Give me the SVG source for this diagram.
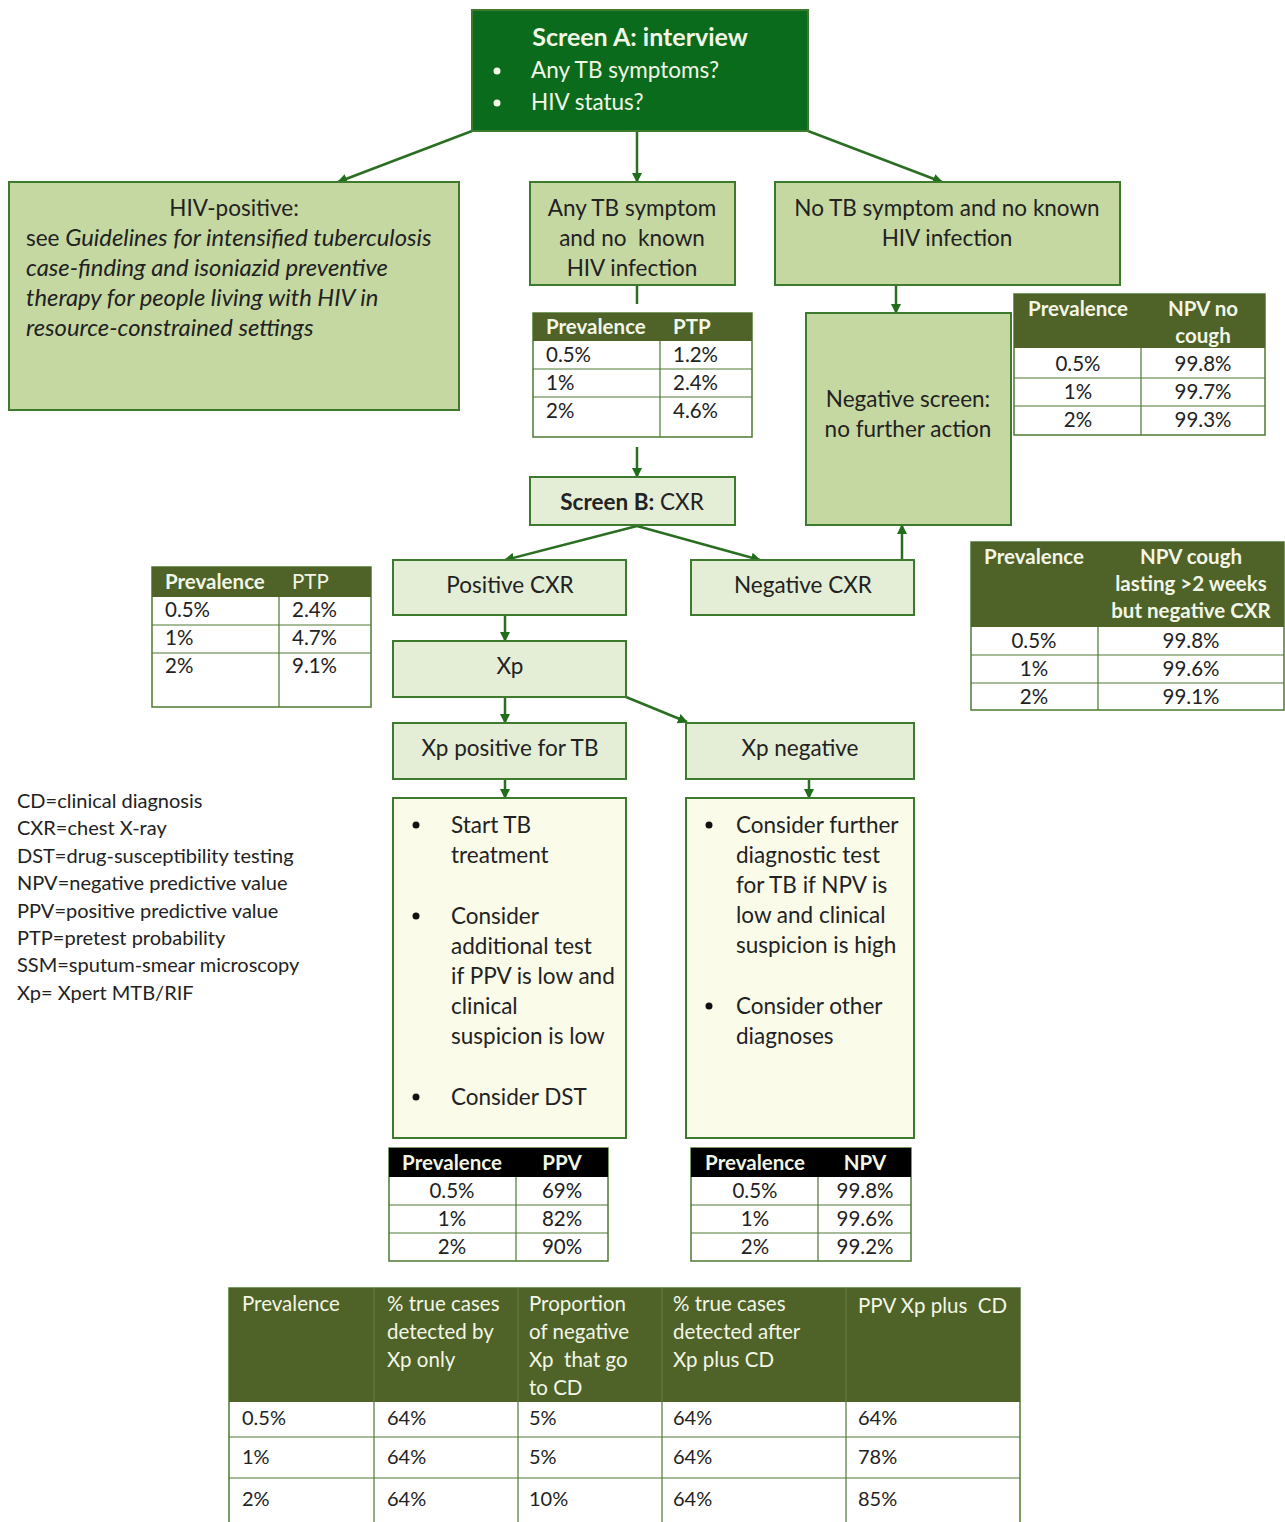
<svg xmlns="http://www.w3.org/2000/svg" width="1285" height="1522" viewBox="0 0 1285 1522">
<style>
text{font-family:Lato,"Open Sans","Liberation Sans",sans-serif;fill:#222;font-size:22.5px;white-space:pre}
.c{text-anchor:middle}
.b{font-weight:bold}
.i{font-style:italic;font-size:23.8px}
.w{fill:#f2f6e6}
.node{stroke:#3d7a2e;stroke-width:2}
.dk{fill:#0b6b1c}
.lg{fill:#c5d8a2}
.pl{fill:#e4edd5}
.yl{fill:#fbfbea}
.tb{fill:#fff;stroke:#4f7a32;stroke-width:1.5}
.th{fill:#4f6228}
.tk{fill:#000}
.ln{stroke:#4f7a32;stroke-width:1.2;fill:none}
.conn line,.conn path{stroke:#2a6e22;stroke-width:2.5;fill:none}
.arr{marker-end:url(#ah)}
.hd{font-size:20.5px}
.v{font-size:20.5px}
.lgd{font-size:20px}
</style>
<defs>
<marker id="ah" markerWidth="10" markerHeight="10" refX="9" refY="5" orient="auto" markerUnits="userSpaceOnUse">
<path d="M0,0 L10,5 L0,10 z" fill="#1f6e1a"/>
</marker>
</defs>

<g class="conn">
<line class="arr" x1="637" y1="131" x2="637" y2="182"/>
<line class="arr" x1="472" y1="131" x2="338" y2="182"/>
<line class="arr" x1="808" y1="131" x2="942" y2="182"/>
<line x1="637" y1="285" x2="637" y2="304"/>
<line class="arr" x1="896" y1="285" x2="896" y2="313"/>
<line class="arr" x1="637" y1="447" x2="637" y2="477"/>
<line class="arr" x1="637" y1="526" x2="505" y2="560"/>
<line class="arr" x1="637" y1="526" x2="760" y2="560"/>
<line class="arr" x1="902" y1="560" x2="902" y2="525"/>
<line class="arr" x1="505" y1="615" x2="505" y2="641"/>
<line class="arr" x1="505" y1="697" x2="505" y2="723"/>
<line class="arr" x1="626" y1="697" x2="687" y2="722"/>
<line class="arr" x1="505" y1="779" x2="505" y2="798"/>
<line class="arr" x1="809" y1="779" x2="809" y2="798"/>
</g>

<g id="screenA">
<rect class="node dk" x="472" y="10" width="336" height="121"/>
<text class="c b w" x="640" y="46" style="font-size:25px">Screen A: interview</text>
<circle cx="497" cy="71" r="3.5" fill="#f2f6e6"/>
<text class="w" x="531" y="78">Any TB symptoms?</text>
<circle cx="497" cy="103" r="3.5" fill="#f2f6e6"/>
<text class="w" x="531" y="110">HIV status?</text>
</g>

<g id="hivpos">
<rect class="node lg" x="9" y="182" width="450" height="228"/>
<text class="c" x="234" y="216">HIV-positive:</text>
<text x="26" y="246">see <tspan class="i">Guidelines for intensified tuberculosis</tspan></text>
<text class="i" x="26" y="276">case-finding and isoniazid preventive</text>
<text class="i" x="26" y="306">therapy for people living with HIV in</text>
<text class="i" x="26" y="336">resource-constrained settings</text>
</g>

<g id="anytb">
<rect class="node lg" x="530" y="182" width="205" height="103"/>
<text class="c" x="632" y="216">Any TB symptom</text>
<text class="c" x="632" y="246">and no  known</text>
<text class="c" x="632" y="276">HIV infection</text>
</g>

<g id="notb">
<rect class="node lg" x="775" y="182" width="345" height="103"/>
<text class="c" x="947" y="216">No TB symptom and no known</text>
<text class="c" x="947" y="246">HIV infection</text>
</g>

<g id="negscreen">
<rect class="node lg" x="806" y="313" width="205" height="212"/>
<text class="c" x="908" y="407">Negative screen:</text>
<text class="c" x="908" y="437">no further action</text>
</g>

<g id="ptp1">
<rect class="tb" x="533" y="313" width="219" height="124"/>
<rect class="th" x="533" y="313" width="219" height="28"/>
<path class="ln" d="M533,369 H752 M533,397 H752 M660,341 V437"/>
<text class="b w hd" x="546" y="334">Prevalence</text>
<text class="b w hd" x="673" y="334">PTP</text>
<text class="v" x="546" y="362">0.5%</text><text class="v" x="673" y="362">1.2%</text>
<text class="v" x="546" y="390">1%</text><text class="v" x="673" y="390">2.4%</text>
<text class="v" x="546" y="418">2%</text><text class="v" x="673" y="418">4.6%</text>
</g>

<g id="npvnocough">
<rect class="tb" x="1014" y="294" width="251" height="141"/>
<rect class="th" x="1014" y="294" width="251" height="54"/>
<path class="ln" d="M1014,378 H1265 M1014,406 H1265 M1141,348 V435"/>
<text class="c b w hd" x="1078" y="316">Prevalence</text>
<text class="c b w hd" x="1203" y="316">NPV no</text>
<text class="c b w hd" x="1203" y="343">cough</text>
<text class="c v" x="1078" y="371">0.5%</text><text class="c v" x="1203" y="371">99.8%</text>
<text class="c v" x="1078" y="399">1%</text><text class="c v" x="1203" y="399">99.7%</text>
<text class="c v" x="1078" y="427">2%</text><text class="c v" x="1203" y="427">99.3%</text>
</g>

<g id="screenB">
<rect class="node pl" x="530" y="477" width="205" height="48"/>
<text class="c" x="632" y="510"><tspan class="b">Screen B:</tspan> CXR</text>
</g>

<g id="poscxr">
<rect class="node pl" x="393" y="560" width="233" height="55"/>
<text class="c" x="510" y="593">Positive CXR</text>
</g>

<g id="negcxr">
<rect class="node pl" x="691" y="560" width="223" height="55"/>
<text class="c" x="803" y="593">Negative CXR</text>
</g>

<g id="ptp2">
<rect class="tb" x="152" y="567" width="219" height="140"/>
<rect class="th" x="152" y="567" width="219" height="30"/>
<path class="ln" d="M152,625 H371 M152,653 H371 M279,597 V707"/>
<text class="b w hd" x="165" y="589">Prevalence</text>
<text class="w hd" x="292" y="589">PTP</text>
<text class="v" x="165" y="617">0.5%</text><text class="v" x="292" y="617">2.4%</text>
<text class="v" x="165" y="645">1%</text><text class="v" x="292" y="645">4.7%</text>
<text class="v" x="165" y="673">2%</text><text class="v" x="292" y="673">9.1%</text>
</g>

<g id="npvcough">
<rect class="tb" x="971" y="542" width="313" height="168"/>
<rect class="th" x="971" y="542" width="313" height="85"/>
<path class="ln" d="M971,655 H1284 M971,683 H1284 M1098,627 V710"/>
<text class="c b w hd" x="1034" y="564">Prevalence</text>
<text class="c b w hd" x="1191" y="564">NPV cough</text>
<text class="c b w hd" x="1191" y="591">lasting &gt;2 weeks</text>
<text class="c b w hd" x="1191" y="618">but negative CXR</text>
<text class="c v" x="1034" y="648">0.5%</text><text class="c v" x="1191" y="648">99.8%</text>
<text class="c v" x="1034" y="676">1%</text><text class="c v" x="1191" y="676">99.6%</text>
<text class="c v" x="1034" y="704">2%</text><text class="c v" x="1191" y="704">99.1%</text>
</g>

<g id="xp">
<rect class="node pl" x="393" y="641" width="233" height="56"/>
<text class="c" x="510" y="674">Xp</text>
</g>

<g id="xppos">
<rect class="node pl" x="393" y="723" width="233" height="56"/>
<text class="c" x="510" y="756">Xp positive for TB</text>
</g>

<g id="xpneg">
<rect class="node pl" x="686" y="723" width="228" height="56"/>
<text class="c" x="800" y="756">Xp negative</text>
</g>

<g id="posactions">
<rect class="node yl" x="393" y="798" width="233" height="340"/>
<circle cx="416" cy="825" r="3.5" fill="#111"/>
<text x="451" y="833">Start TB</text>
<text x="451" y="863">treatment</text>
<circle cx="416" cy="916" r="3.5" fill="#111"/>
<text x="451" y="924">Consider</text>
<text x="451" y="954">additional test</text>
<text x="451" y="984">if PPV is low and</text>
<text x="451" y="1014">clinical</text>
<text x="451" y="1044">suspicion is low</text>
<circle cx="416" cy="1097" r="3.5" fill="#111"/>
<text x="451" y="1105">Consider DST</text>
</g>

<g id="negactions">
<rect class="node yl" x="686" y="798" width="228" height="340"/>
<circle cx="709" cy="825" r="3.5" fill="#111"/>
<text x="736" y="833">Consider further</text>
<text x="736" y="863">diagnostic test</text>
<text x="736" y="893">for TB if NPV is</text>
<text x="736" y="923">low and clinical</text>
<text x="736" y="953">suspicion is high</text>
<circle cx="709" cy="1006" r="3.5" fill="#111"/>
<text x="736" y="1014">Consider other</text>
<text x="736" y="1044">diagnoses</text>
</g>

<g id="ppvtable">
<rect class="tb" x="389" y="1148" width="219" height="113"/>
<rect class="tk" x="389" y="1148" width="219" height="29"/>
<path class="ln" d="M389,1205 H608 M389,1233 H608 M516,1177 V1261"/>
<text class="c b w hd" x="452" y="1170">Prevalence</text>
<text class="c b w hd" x="562" y="1170">PPV</text>
<text class="c v" x="452" y="1198">0.5%</text><text class="c v" x="562" y="1198">69%</text>
<text class="c v" x="452" y="1226">1%</text><text class="c v" x="562" y="1226">82%</text>
<text class="c v" x="452" y="1254">2%</text><text class="c v" x="562" y="1254">90%</text>
</g>

<g id="npvtable">
<rect class="tb" x="691" y="1148" width="220" height="113"/>
<rect class="tk" x="691" y="1148" width="220" height="29"/>
<path class="ln" d="M691,1205 H911 M691,1233 H911 M818,1177 V1261"/>
<text class="c b w hd" x="755" y="1170">Prevalence</text>
<text class="c b w hd" x="865" y="1170">NPV</text>
<text class="c v" x="755" y="1198">0.5%</text><text class="c v" x="865" y="1198">99.8%</text>
<text class="c v" x="755" y="1226">1%</text><text class="c v" x="865" y="1226">99.6%</text>
<text class="c v" x="755" y="1254">2%</text><text class="c v" x="865" y="1254">99.2%</text>
</g>

<g id="legend">
<text class="lgd" x="17" y="808">CD=clinical diagnosis</text>
<text class="lgd" x="17" y="835">CXR=chest X-ray</text>
<text class="lgd" x="17" y="863">DST=drug-susceptibility testing</text>
<text class="lgd" x="17" y="890">NPV=negative predictive value</text>
<text class="lgd" x="17" y="918">PPV=positive predictive value</text>
<text class="lgd" x="17" y="945">PTP=pretest probability</text>
<text class="lgd" x="17" y="972">SSM=sputum-smear microscopy</text>
<text class="lgd" x="17" y="1000">Xp= Xpert MTB/RIF</text>
</g>

<g id="summary">
<rect class="tb" x="229" y="1288" width="791" height="240"/>
<rect class="th" x="229" y="1288" width="791" height="114"/>
<path class="ln" d="M229,1437 H1020 M229,1478 H1020 M374,1402 V1522 M518,1402 V1522 M662,1402 V1522 M846,1402 V1522"/>
<path d="M374,1288 V1402 M518,1288 V1402 M662,1288 V1402 M846,1288 V1402" stroke="#6a7d45" stroke-width="1"/>
<text class="w hd" x="242" y="1311">Prevalence</text>
<text class="w hd" x="387" y="1311">% true cases</text>
<text class="w hd" x="387" y="1339">detected by</text>
<text class="w hd" x="387" y="1367">Xp only</text>
<text class="w hd" x="529" y="1311">Proportion</text>
<text class="w hd" x="529" y="1339">of negative</text>
<text class="w hd" x="529" y="1367">Xp  that go</text>
<text class="w hd" x="529" y="1395">to CD</text>
<text class="w hd" x="673" y="1311">% true cases</text>
<text class="w hd" x="673" y="1339">detected after</text>
<text class="w hd" x="673" y="1367">Xp plus CD</text>
<text class="w hd" x="858" y="1313">PPV Xp plus  CD</text>
<text class="lgd" x="242" y="1425">0.5%</text><text class="lgd" x="387" y="1425">64%</text><text class="lgd" x="529" y="1425">5%</text><text class="lgd" x="673" y="1425">64%</text><text class="lgd" x="858" y="1425">64%</text>
<text class="lgd" x="242" y="1464">1%</text><text class="lgd" x="387" y="1464">64%</text><text class="lgd" x="529" y="1464">5%</text><text class="lgd" x="673" y="1464">64%</text><text class="lgd" x="858" y="1464">78%</text>
<text class="lgd" x="242" y="1506">2%</text><text class="lgd" x="387" y="1506">64%</text><text class="lgd" x="529" y="1506">10%</text><text class="lgd" x="673" y="1506">64%</text><text class="lgd" x="858" y="1506">85%</text>
</g>
</svg>
